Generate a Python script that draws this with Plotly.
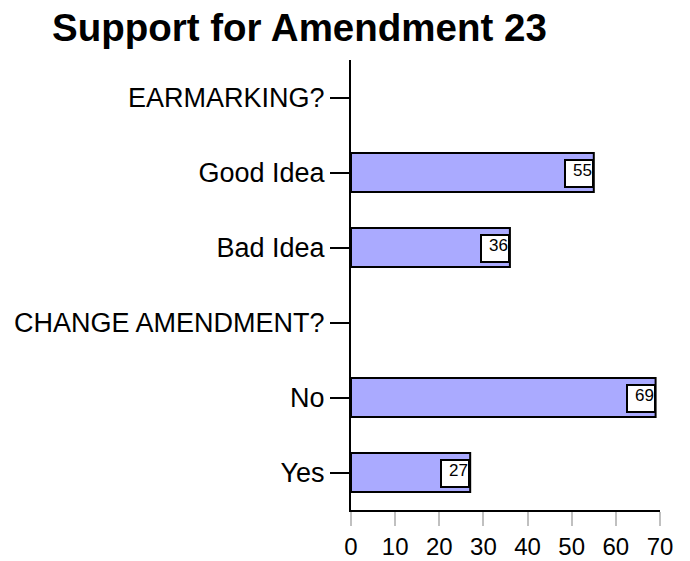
import plotly.graph_objects as go

categories = ["EARMARKING?", "Good Idea", "Bad Idea", "CHANGE AMENDMENT?", "No", "Yes"]
values = [None, 55, 36, None, 69, 27]
x_ticks = [0, 10, 20, 30, 40, 50, 60, 70]
title_text = "Support for Amendment 23"

FONT = "Liberation Sans, Arial, sans-serif"

fig = go.Figure()
fig.add_trace(go.Bar(
    y=categories,
    x=values,
    orientation="h",
    width=0.52,
    marker=dict(color="#aaaaff", line=dict(color="black", width=2)),
    hoverinfo="x+y",
))

for c, v in zip(categories, values):
    if v is None:
        continue
    fig.add_annotation(
        x=v, y=c, xref="x", yref="y",
        text=str(v), showarrow=False,
        xanchor="right", yanchor="middle",
        width=26, height=25, align="right", valign="top",
        bgcolor="white", bordercolor="black", borderwidth=2, borderpad=0,
        font=dict(family=FONT, size=17, color="black"),
        yshift=-1,
    )

fig.update_layout(
    width=690, height=561,
    margin=dict(l=351, r=30, t=60, b=51, autoexpand=False),
    paper_bgcolor="white", plot_bgcolor="white",
    showlegend=False,
    font=dict(family=FONT, color="black"),
    title=dict(
        text="<b>" + title_text + "</b>",
        xref="container", yref="container",
        x=52/690, xanchor="left",
        y=1 - 28/561, yanchor="middle",
        font=dict(family=FONT, size=38.5, color="black"),
    ),
    xaxis=dict(
        range=[0, 70], tickvals=x_ticks, ticktext=[str(t) for t in x_ticks],
        showgrid=False, zeroline=False, automargin=False,
        showline=True, linecolor="black", linewidth=2,
        ticks="outside", ticklen=14, tickwidth=2, tickcolor="#c0c0c0",
        tickfont=dict(family=FONT, size=24, color="black"),
        fixedrange=True,
    ),
    yaxis=dict(
        type="category", categoryorder="array", categoryarray=categories,
        autorange="reversed", automargin=False,
        showgrid=False, zeroline=False,
        showline=True, linecolor="black", linewidth=2,
        ticks="outside", ticklen=19, tickwidth=1.5, tickcolor="black",
        tickfont=dict(family=FONT, size=27, color="black"),
        fixedrange=True,
    ),
)

fig.write_html("out.html", config={"displayModeBar": False},
               post_script="document.body.style.margin='0';")
